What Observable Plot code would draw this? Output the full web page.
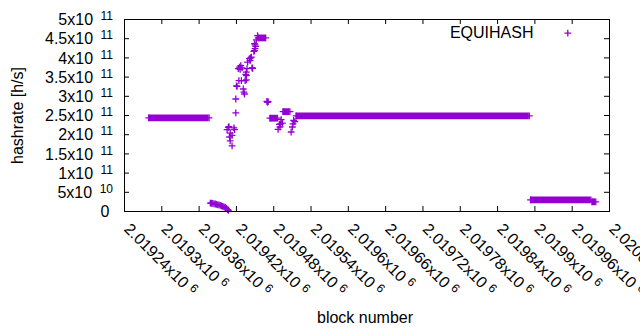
<!DOCTYPE html>
<html><head><meta charset="utf-8">
<script src="https://cdn.jsdelivr.net/npm/d3@7"></script>
<script src="https://cdn.jsdelivr.net/npm/@observablehq/plot@0.6"></script>
<style>
html,body{margin:0;padding:0;background:#fff;overflow:hidden;}
</style></head><body><div id="chart"></div>
<script>
// ---- data ----
const seriesName = "EQUIHASH";
const xTitle = "block number";
const yTitle = "hashrate [h/s]";

// dense runs of consecutive blocks with (nearly) constant hashrate
const runStartBlock = [2019279, 2019455, 2019474, 2019495, 2019516, 2019893, 2019992];
const runEndBlock   = [2019376, 2019467, 2019486, 2019506, 2019891, 2019990, 2019998];
const runHashrate   = [2.44e11, 4.52e11, 2.43e11, 2.60e11, 2.49e11, 3.05e10, 2.53e10];

// individual points
const pointBlock = [
  2019378, 2019380, 2019382, 2019384, 2019386, 2019388, 2019390, 2019392, 2019394, 2019396,
  2019398, 2019400, 2019402, 2019404, 2019406, 2019407,
  2019405, 2019407, 2019408, 2019409, 2019410, 2019410, 2019413, 2019413, 2019416, 2019417,
  2019419, 2019419, 2019420, 2019421, 2019424, 2019428, 2019431, 2019432, 2019433, 2019434,
  2019436, 2019435, 2019437, 2019423, 2019425, 2019427, 2019426, 2019429, 2019438, 2019441,
  2019442, 2019443, 2019444, 2019445, 2019446, 2019436, 2019436, 2019448, 2019449, 2019449,
  2019450, 2019450, 2019451, 2019452, 2019454,
  2019469, 2019470, 2019471,
  2019487, 2019490, 2019489, 2019491, 2019492, 2019494,
  2019508, 2019510, 2019511, 2019512, 2019514
];
const pointHashrate = [
  2.20e10, 2.15e10, 2.10e10, 2.00e10, 1.95e10, 1.85e10, 1.75e10, 1.70e10, 1.60e10, 1.45e10,
  1.35e10, 1.20e10, 1.05e10, 8.0e9, 5.0e9, 3.0e9,
  2.13e11, 2.19e11, 2.21e11, 1.94e11, 2.04e11, 1.84e11, 1.98e11, 1.71e11, 2.18e11, 2.13e11,
  2.57e11, 2.93e11, 3.27e11, 3.26e11, 3.41e11, 3.41e11, 3.19e11, 3.11e11, 3.06e11, 3.41e11,
  3.43e11, 3.57e11, 3.72e11, 3.72e11, 3.76e11, 3.80e11, 3.70e11, 3.74e11, 3.89e11, 3.98e11,
  3.93e11, 4.00e11, 4.02e11, 3.74e11, 3.73e11, 3.63e11, 3.54e11, 4.17e11, 4.19e11, 4.37e11,
  4.34e11, 4.24e11, 4.30e11, 4.47e11, 4.58e11,
  2.87e11, 2.84e11, 2.86e11,
  2.14e11, 2.20e11, 2.27e11, 2.28e11, 2.39e11, 2.30e11,
  2.07e11, 2.20e11, 2.28e11, 2.37e11, 2.34e11
];

const xTickValues = [2019240, 2019300, 2019360, 2019420, 2019480, 2019540, 2019600,
                     2019660, 2019720, 2019780, 2019840, 2019900, 2019960, 2020020];
const xTickLabels = ["2.01924x10^6", "2.0193x10^6", "2.01936x10^6", "2.01942x10^6", "2.01948x10^6",
                     "2.01954x10^6", "2.0196x10^6", "2.01966x10^6", "2.01972x10^6", "2.01978x10^6",
                     "2.01984x10^6", "2.0199x10^6", "2.01996x10^6", "2.02002x10^6"];
const yTickValues = [0, 5e10, 1e11, 1.5e11, 2e11, 2.5e11, 3e11, 3.5e11, 4e11, 4.5e11, 5e11];
const yTickLabels = ["0", "5x10^10", "1x10^11", "1.5x10^11", "2x10^11", "2.5x10^11",
                     "3x10^11", "3.5x10^11", "4x10^11", "4.5x10^11", "5x10^11"];

// ---- layout / style ----
const purple = "#9400d3";
const font = "'Liberation Sans', Arial, sans-serif";
const fs = 16;
const capMid = 0.36 * fs;
const W = 640, H = 330, mL = 124, mR = 31, mT = 19, mB = 119;
const fw = W - mL - mR, fh = H - mT - mB;
const tickLen = 5;
const plus = {draw(ctx) { const h = 3.4; ctx.moveTo(-h, 0); ctx.lineTo(h, 0); ctx.moveTo(0, -h); ctx.lineTo(0, h); }};

const runs = runStartBlock.map((s, i) => ({x1: s, x2: runEndBlock[i], y: runHashrate[i]}));
const runEnds = runs.flatMap(r => [{x: r.x1, y: r.y}, {x: r.x2, y: r.y}]);
const pts = pointBlock.map((b, i) => ({x: b, y: pointHashrate[i]}));

const chart = Plot.plot({
  width: W, height: H,
  marginLeft: mL, marginRight: mR, marginTop: mT, marginBottom: mB,
  style: {fontFamily: font, fontSize: fs + "px", background: "white", color: "black"},
  x: {domain: [2019240, 2020020], axis: null},
  y: {domain: [0, 5e11], axis: null},
  marks: [
    Plot.ruleY(runs, {x1: "x1", x2: "x2", y: "y", stroke: purple, strokeWidth: 6.8}),
    Plot.dot(runEnds, {x: "x", y: "y", symbol: plus, stroke: purple, fill: "none", strokeWidth: 1.3}),
    Plot.dot(pts, {x: "x", y: "y", symbol: plus, stroke: purple, fill: "none", strokeWidth: 1.3}),
    Plot.frame({stroke: "black", strokeWidth: 1}),
    Plot.tickX(xTickValues, {x: d => d, insetTop: fh - tickLen, stroke: "black"}),
    Plot.tickX(xTickValues, {x: d => d, insetBottom: fh - tickLen, stroke: "black"}),
    Plot.tickY(yTickValues, {y: d => d, insetRight: fw - tickLen, stroke: "black"}),
    Plot.tickY(yTickValues, {y: d => d, insetLeft: fw - tickLen, stroke: "black"}),
    Plot.text(xTickLabels, {x: (d, i) => xTickValues[i], text: d => d, frameAnchor: "bottom",
      rotate: 45, textAnchor: "start", lineAnchor: "bottom", dx: -1.3, dy: 18.5,
      fontSize: fs, fill: "black"}),
    Plot.text(yTickLabels, {y: (d, i) => yTickValues[i], text: d => d, frameAnchor: "left",
      textAnchor: "end", lineAnchor: "bottom", dx: -11.5, dy: capMid, fontSize: fs, fill: "black"}),
    Plot.text([yTitle], {text: d => d, frameAnchor: "left", rotate: -90, dx: 16.5 - mL + capMid,
      textAnchor: "middle", lineAnchor: "bottom", fontSize: fs, fill: "black"}),
    Plot.text([xTitle], {text: d => d, frameAnchor: "bottom", dx: -2, dy: 105.3 + capMid,
      textAnchor: "middle", lineAnchor: "bottom", fontSize: fs, fill: "black"}),
    Plot.text([seriesName], {text: d => d, frameAnchor: "top-right", dx: -76, dy: 18.3,
      textAnchor: "end", lineAnchor: "bottom", fontSize: fs, fill: "black"}),
    Plot.dot([seriesName], {frameAnchor: "top-right", dx: -41.7, dy: 13.7, symbol: plus,
      stroke: purple, fill: "none", strokeWidth: 1.3})
  ]
});
document.getElementById("chart").appendChild(chart);

// ---- text post-processing: superscripts ----
d3.select(chart).selectAll("text").each(function() {
  const t = this.textContent;
  if (t === "0") { this.setAttribute("dx", -3.5); return; }
  const k = t.indexOf("^");
  if (k < 0) return;
  const rotated = (this.getAttribute("transform") || "").includes("rotate");
  this.textContent = t.slice(0, k);
  const ts = document.createElementNS("http://www.w3.org/2000/svg", "tspan");
  ts.setAttribute("dx", rotated ? 4.5 : 7.5);
  ts.setAttribute("dy", -5);
  ts.setAttribute("font-size", 12);
  ts.textContent = t.slice(k + 1);
  this.appendChild(ts);
});
</script></body></html>
